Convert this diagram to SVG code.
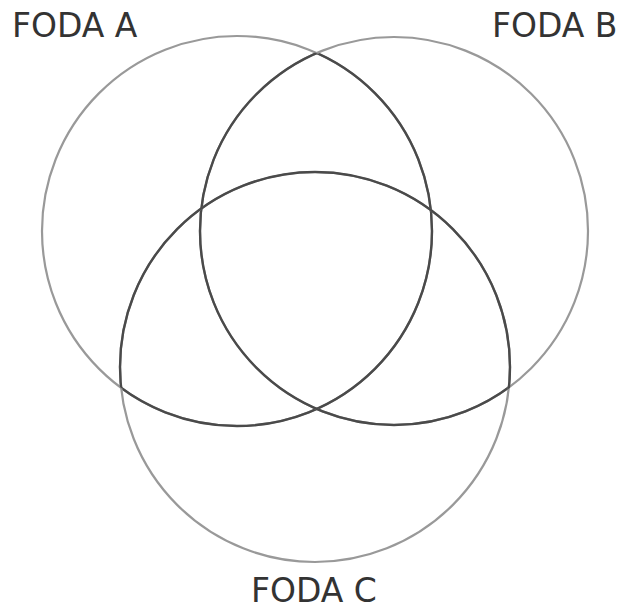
<svg xmlns="http://www.w3.org/2000/svg" width="621" height="610" viewBox="0 0 621 610">
<style>
.lbl{font-family:"DejaVu Sans",sans-serif;font-size:33px;fill:#333}
.light{fill:none;stroke:#999;stroke-width:2.2}
.dark{fill:none;stroke:#4a4a4a;stroke-width:2.4}
</style>
<defs>
<clipPath id="notA"><circle cx="394" cy="231" r="195"/><circle cx="315" cy="367" r="195"/></clipPath>
<clipPath id="notB"><circle cx="237" cy="231" r="195"/><circle cx="315" cy="367" r="195"/></clipPath>
<clipPath id="notC"><circle cx="237" cy="231" r="195"/><circle cx="394" cy="231" r="195"/></clipPath>
</defs>
<rect width="621" height="610" fill="#fff"/>
<g id="connectors"></g>
<g id="circleA">
<circle class="light" cx="237" cy="231" r="195"/>
<circle class="dark" cx="237" cy="231" r="195" clip-path="url(#notA)"/>
<text class="lbl" x="12" y="37">FODA A</text>
</g>
<g id="circleB">
<circle class="light" cx="394" cy="231" r="194"/>
<circle class="dark" cx="394" cy="231" r="194" clip-path="url(#notB)"/>
<text class="lbl" x="492" y="37">FODA B</text>
</g>
<g id="circleC">
<circle class="light" cx="315" cy="367" r="195"/>
<circle class="dark" cx="315" cy="367" r="195" clip-path="url(#notC)"/>
<text class="lbl" x="251" y="602">FODA C</text>
</g>
</svg>
